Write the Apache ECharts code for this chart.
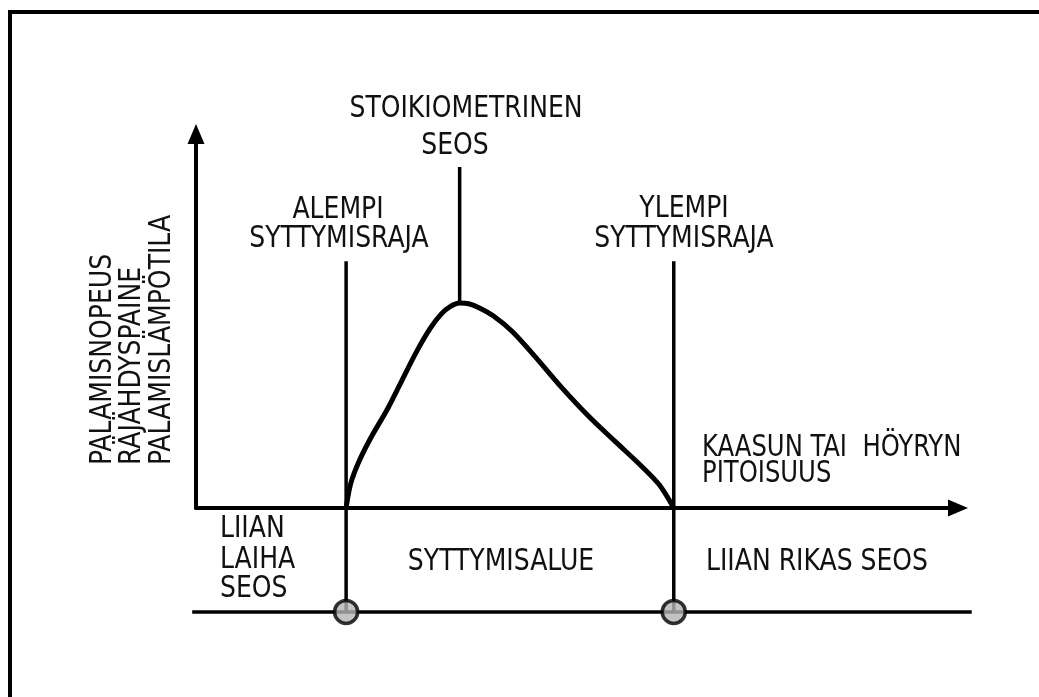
<!DOCTYPE html>
<html>
<head>
<meta charset="utf-8">
<script src="https://cdn.jsdelivr.net/npm/echarts@6/dist/echarts.min.js"></script>
<style>
  html, body { margin: 0; padding: 0; background: #fff; }
  #chart { width: 1039px; height: 697px; }
</style>
</head>
<body>
<div id="chart"></div>
<script>
// gas / vapour concentration (arbitrary units) and burning rate (arbitrary units)
const concentration = [19.7, 20.3, 21.4, 23.0, 25.0, 27.0, 29.0, 30.8, 32.2, 33.4, 34.6,
  35.8, 37.2, 39.0, 41.5, 44.5, 48.0, 51.5, 55.0, 58.3, 60.8, 62.7];
const burning = [0, 6.5, 12.5, 19.0, 26.0, 34.0, 42.0, 48.2, 51.9, 53.9, 54.8,
  54.6, 53.5, 51.4, 47.2, 40.5, 32.2, 24.6, 17.8, 11.5, 6.2, 0];

// flammability limits and stoichiometric mixture
const limits = [19.7, 62.7];
const limitTop = 66;
const stoich = 34.6;
const stoichTop = 91.2;
const peak = 54.8;
// level of the lower band line (below the x axis) and its extent
const bandLevel = -27.8;
const bandRange = [-0.5, 101.8];

const yAxisTitle = ['PALAMISNOPEUS', 'RÄJÄHDYSPAINE', 'PALAMISLÄMPÖTILA'];

// no narrow sans installed, so squeeze the condensed one a little
const FONT = '"Liberation Sans Narrow", "DejaVu Sans Condensed", sans-serif';
const SQUEEZE = 0.9;

// main plot box (0..100 on both axes)
const G = { left: 196, top: 134, width: 762, height: 374 };
const pxX = G.width / 100;
const pxY = G.height / 100;
// the band line runs a bit wider than the main grid, so it gets its own grid on the same scale
const G2 = {
  left: G.left + bandRange[0] * pxX,
  width: (bandRange[1] - bandRange[0]) * pxX,
  top: G.top + G.height - (bandLevel + 5) * pxY,
  height: 10 * pxY
};

const chart = echarts.init(document.getElementById('chart'));

function label(text, x, y, align, size) {
  return {
    type: 'text',
    x: x,
    y: y,
    scaleX: SQUEEZE,
    style: {
      text: text,
      fill: '#111',
      font: (size || 31) + 'px ' + FONT,
      align: align || 'center',
      verticalAlign: 'middle'
    }
  };
}

const blackLine = { color: '#000', width: 3.5 };
const hiddenAxis = { show: false };

const series = [
  {
    type: 'line',
    data: concentration.map((c, i) => [c, burning[i]]),
    smooth: 0.3,
    showSymbol: false,
    lineStyle: { color: '#000', width: 5 },
    z: 3
  },
  // stoichiometric marker
  {
    type: 'line',
    data: [[stoich, peak], [stoich, stoichTop]],
    showSymbol: false,
    clip: false,
    lineStyle: blackLine
  },
  // lower band line
  {
    type: 'line',
    xAxisIndex: 1,
    yAxisIndex: 1,
    data: bandRange.map((x) => [x, bandLevel]),
    showSymbol: false,
    clip: false,
    lineStyle: blackLine
  },
  // band dots at the limits
  {
    type: 'scatter',
    data: limits.map((x) => [x, bandLevel]),
    symbolSize: 23,
    clip: false,
    itemStyle: { color: '#b4b4b4', borderColor: '#000', borderWidth: 3.5 },
    z: 5
  }
];

limits.forEach((x) => {
  series.push({
    type: 'line',
    data: [[x, bandLevel], [x, limitTop]],
    showSymbol: false,
    clip: false,
    lineStyle: blackLine
  });
});

const arrowAxis = {
  type: 'value',
  min: 0,
  max: 100,
  axisLine: {
    show: true,
    lineStyle: { color: '#000', width: 4 },
    symbol: ['none', 'triangle'],
    symbolSize: [17, 20]
  },
  axisTick: { show: false },
  axisLabel: { show: false },
  splitLine: { show: false }
};

const option = {
  backgroundColor: '#fff',
  animation: false,
  grid: [G, G2],
  xAxis: [
    arrowAxis,
    Object.assign({ type: 'value', gridIndex: 1, min: bandRange[0], max: bandRange[1] }, hiddenAxis)
  ],
  yAxis: [
    arrowAxis,
    Object.assign({ type: 'value', gridIndex: 1, min: bandLevel - 5, max: bandLevel + 5 }, hiddenAxis)
  ],
  series: series,
  graphic: [
    {
      type: 'polyline',
      shape: { points: [[10, 697], [10, 12], [1039, 12]] },
      style: { stroke: '#000', lineWidth: 4, fill: null }
    },
    {
      type: 'text',
      x: 88,
      y: 465,
      rotation: Math.PI / 2,
      scaleX: SQUEEZE,
      style: {
        text: yAxisTitle.join('\n'),
        fill: '#111',
        font: '31px ' + FONT,
        lineHeight: 29.5,
        align: 'left',
        verticalAlign: 'top'
      }
    },
    label('STOIKIOMETRINEN', 466, 109),
    label('SEOS', 455, 146),
    label('ALEMPI', 338, 210),
    label('SYTTYMISRAJA', 339, 239),
    label('YLEMPI', 684, 209),
    label('SYTTYMISRAJA', 684, 239),
    label('KAASUN TAI  HÖYRYN', 702, 448, 'left', 30),
    label('PITOISUUS', 702, 474, 'left', 30),
    label('LIIAN', 220, 529, 'left'),
    label('LAIHA', 220, 560, 'left'),
    label('SEOS', 220, 589, 'left'),
    label('SYTTYMISALUE', 501, 562),
    label('LIIAN RIKAS SEOS', 706, 562, 'left')
  ]
};

chart.setOption(option);
</script>
</body>
</html>
